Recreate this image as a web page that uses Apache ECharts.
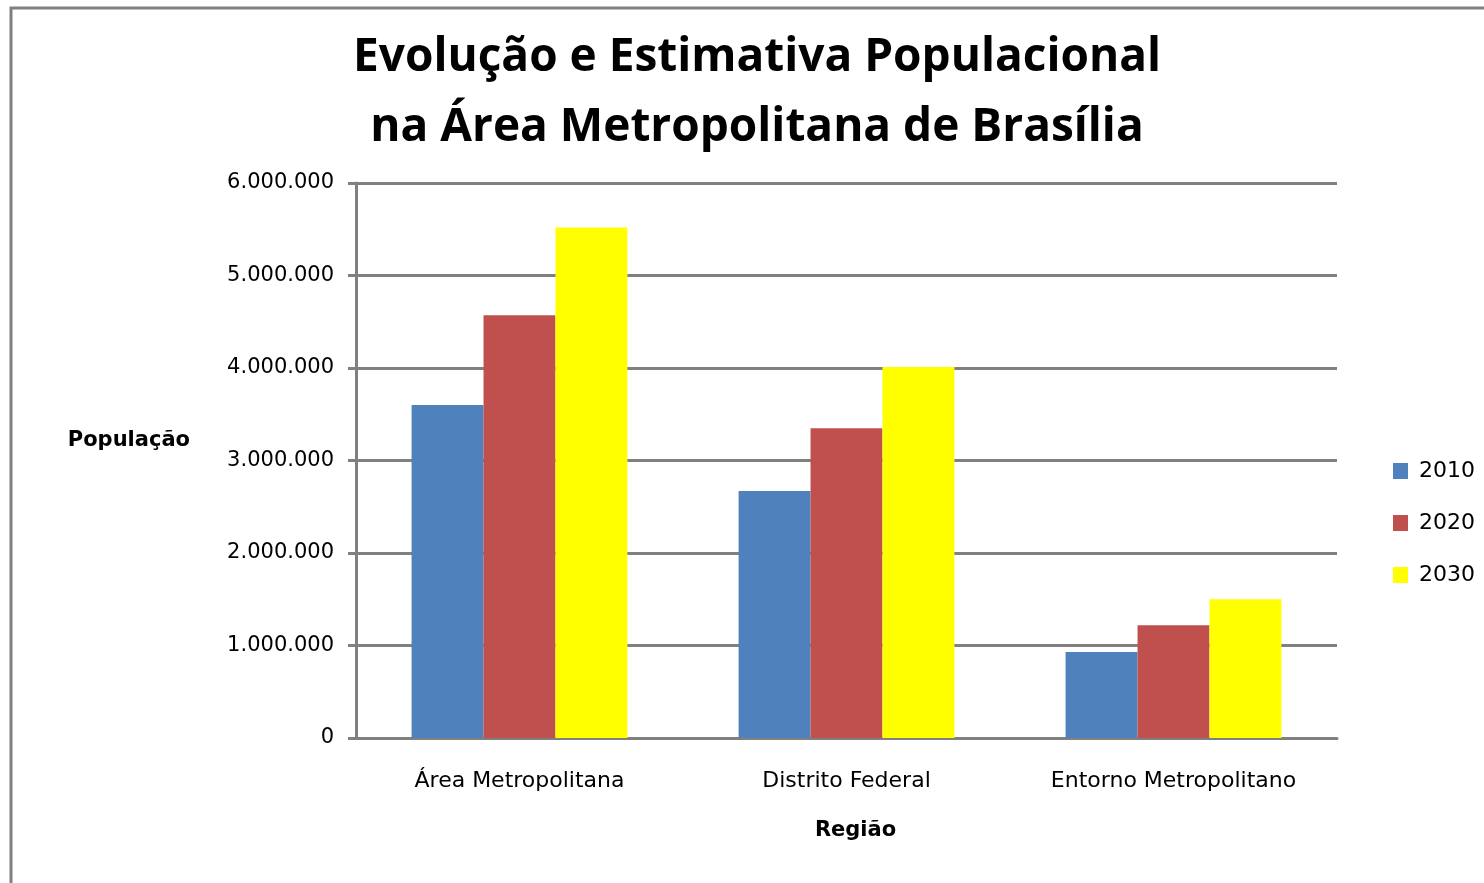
<!DOCTYPE html>
<html>
<head>
<meta charset="utf-8">
<title>Evolução e Estimativa Populacional</title>
<script src="https://cdn.jsdelivr.net/npm/echarts@6/dist/echarts.min.js"></script>
<style>
  html, body { margin: 0; padding: 0; background: #fff; }
  #chart { width: 1484px; height: 883px; }
</style>
</head>
<body>
<div id="chart"></div>
<script>
// dados
const regioes = ['Área Metropolitana', 'Distrito Federal', 'Entorno Metropolitano']
const anos = ['2010', '2020', '2030']
const pop2010 = [3600000, 2670000, 930000]
const pop2020 = [4570000, 3350000, 1220000]
const pop2030 = [5520000, 4010000, 1500000]
const cores = ['#4F81BD', '#C0504D', '#FFFF00']

const fonte = 'DejaVu Sans'

function milhar(v) {
  return String(v).replace(/\B(?=(\d{3})+(?!\d))/g, '.')
}

const chart = echarts.init(document.getElementById('chart'))

const series = [pop2010, pop2020, pop2030].map((data, i) => ({
  name: anos[i],
  type: 'bar',
  data: data,
  barGap: '0%',
  barCategoryGap: '34%',
  itemStyle: { color: cores[i] },
  animation: false
}))

chart.setOption({
  animation: false,
  graphic: [{
    type: 'rect',
    shape: { x: 11, y: 8, width: 1700, height: 1000 },
    style: { fill: 'none', stroke: '#808080', lineWidth: 3 },
    z: -1
  }],
  title: {
    text: 'Evolução e Estimativa Populacional\nna Área Metropolitana de Brasília',
    left: 752,
    textAlign: 'center',
    top: 18,
    textStyle: {
      fontFamily: 'Open Sans',
      fontWeight: 'bold',
      fontSize: 46,
      lineHeight: 70,
      color: '#000'
    }
  },
  legend: {
    orient: 'vertical',
    left: 1388,
    top: 455,
    itemWidth: 15,
    itemHeight: 16,
    itemGap: 30,
    itemStyle: { borderWidth: 0 },
    icon: 'rect',
    data: anos,
    textStyle: { fontFamily: fonte, fontSize: 22, color: '#000', padding: [0, 0, 0, 6] }
  },
  grid: {
    left: 356,
    right: 147,
    top: 183,
    bottom: 145
  },
  xAxis: {
    type: 'category',
    data: regioes,
    name: 'Região',
    nameLocation: 'middle',
    nameGap: 82,
    nameTextStyle: { fontFamily: fonte, fontSize: 21, fontWeight: 'bold', color: '#000', padding: [0, 0, 0, 18] },
    axisLine: { lineStyle: { color: '#808080', width: 3 } },
    axisTick: { show: false },
    axisLabel: { fontFamily: fonte, fontSize: 22, color: '#000', margin: 32 }
  },
  yAxis: {
    type: 'value',
    min: 0,
    max: 6000000,
    interval: 1000000,
    name: 'População',
    nameLocation: 'middle',
    nameRotate: 0,
    nameGap: 166,
    nameTextStyle: {
      fontFamily: fonte, fontSize: 21, fontWeight: 'bold', color: '#000',
      align: 'right', verticalAlign: 'bottom', lineHeight: 40
    },
    axisLine: { show: true, lineStyle: { color: '#808080', width: 3 } },
    axisTick: { show: true, length: 8, lineStyle: { color: '#808080', width: 3 } },
    splitLine: { lineStyle: { color: '#808080', width: 3 } },
    axisLabel: { fontFamily: fonte, fontSize: 21, color: '#000', margin: 22, formatter: milhar }
  },
  series: series
})
</script>
</body>
</html>
